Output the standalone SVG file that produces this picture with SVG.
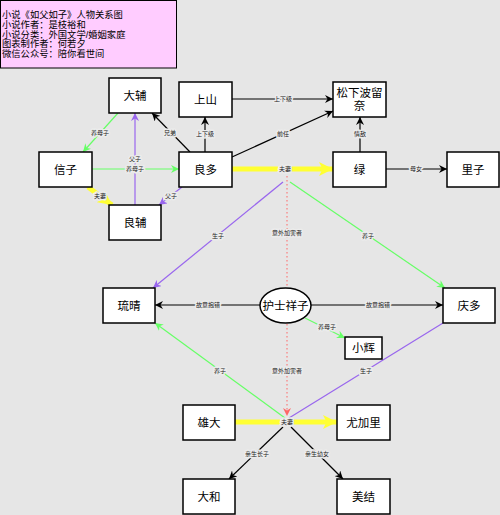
<svg xmlns="http://www.w3.org/2000/svg" width="500" height="515" viewBox="0 0 500 515">
<style>
text{font-family:"Liberation Sans","Noto Sans CJK SC",sans-serif;}
.box{fill:#fff;stroke:#000;stroke-width:1.5;}
.nt{font-size:11.5px;text-anchor:middle;dominant-baseline:central;fill:#000;}
.lb{font-size:6px;text-anchor:middle;dominant-baseline:central;fill:#222;stroke:#ececec;stroke-width:3;paint-order:stroke;stroke-linejoin:round;}
.k{stroke:#000;stroke-width:1.2;fill:none;marker-end:url(#ak);}
.g{stroke:#66ff66;stroke-width:1.2;fill:none;marker-end:url(#ag);}
.p{stroke:#9966ee;stroke-width:1.2;fill:none;marker-end:url(#ap);}
.y{stroke:#ffff33;stroke-width:5;fill:none;marker-end:url(#ay);}
.r{stroke:#ff6666;stroke-width:1;stroke-dasharray:1.5 2.5;fill:none;marker-end:url(#ar);}
.tt{font-size:9.3px;dominant-baseline:central;fill:#000;}
</style>
<defs>
<marker id="ak" markerUnits="userSpaceOnUse" markerWidth="9" markerHeight="8" refX="8" refY="4" orient="auto"><path d="M0,0 L8,4 L0,8 L2.5,4 z" fill="#000"/></marker>
<marker id="ag" markerUnits="userSpaceOnUse" markerWidth="9" markerHeight="8" refX="8" refY="4" orient="auto"><path d="M0,0 L8,4 L0,8 L2.5,4 z" fill="#66ff66"/></marker>
<marker id="ap" markerUnits="userSpaceOnUse" markerWidth="9" markerHeight="8" refX="8" refY="4" orient="auto"><path d="M0,0 L8,4 L0,8 L2.5,4 z" fill="#9966ee"/></marker>
<marker id="ar" markerUnits="userSpaceOnUse" markerWidth="9" markerHeight="8" refX="8" refY="4" orient="auto"><path d="M0,0 L8,4 L0,8 L2.5,4 z" fill="#ff6666"/></marker>
<marker id="ay" markerUnits="userSpaceOnUse" markerWidth="15" markerHeight="14" refX="14" refY="7" orient="auto"><path d="M0,0 L14,7 L0,14 L3.5,7 z" fill="#ffff33"/></marker>
</defs>
<rect x="0" y="0" width="500" height="515" fill="#e6e6e6"/>
<g id="title">
<rect x="0.5" y="0.5" width="176" height="67.5" fill="#ffccff" stroke="#000" stroke-width="1"/>
<text class="tt" x="2" y="15">小说《如父如子》人物关系图</text>
<text class="tt" x="2" y="25">小说作者：是枝裕和</text>
<text class="tt" x="2" y="34.5">小说分类：外国文学/婚姻家庭</text>
<text class="tt" x="2" y="44">图表制作者：何若夕</text>
<text class="tt" x="2" y="53.5">微信公众号：陪你看世间</text>
</g>
<g id="connectors">
<path class="g" d="M118,113 L83,152"/>
<path class="k" d="M190,152 L152,113"/>
<path class="k" d="M205,152 L205,117"/>
<path class="p" d="M135,205 L135,113"/>
<path class="g" d="M92,169 L179,169"/>
<path class="p" d="M182,187 L159,205"/>
<path class="y" d="M88,187 L112,205"/>
<path class="k" d="M232,99 L333,99"/>
<path class="k" d="M232,157 L333,111"/>
<path class="k" d="M360,152 L360,117"/>
<path class="y" d="M232,169 L333,169"/>
<path class="k" d="M386,169 L447,169"/>
<path class="r" d="M287,176 L287,416"/>
<path class="p" d="M283,182 L153,288"/>
<path class="g" d="M290,182 L445,288"/>
<path class="k" d="M260,305 L155,305"/>
<path class="k" d="M311,305 L443,305"/>
<path class="g" d="M305,318 L345,338"/>
<path class="g" d="M285,418 L155,323"/>
<path stroke="#9966ee" stroke-width="1.2" fill="none" d="M289,418 L443,323"/>
<path class="y" d="M235,422 L337,422"/>
<path class="k" d="M283,427 L229,479"/>
<path class="k" d="M291,427 L343,479"/>
<text class="lb" x="100" y="133">养母子</text>
<text class="lb" x="170" y="133">兄弟</text>
<text class="lb" x="205" y="134">上下级</text>
<text class="lb" x="135" y="159">父子</text>
<text class="lb" x="135" y="169">养母子</text>
<text class="lb" x="171" y="196">父子</text>
<text class="lb" x="100" y="196">夫妻</text>
<text class="lb" x="283" y="99">上下级</text>
<text class="lb" x="283" y="134">前任</text>
<text class="lb" x="360" y="134">情敌</text>
<text class="lb" x="285" y="169">夫妻</text>
<text class="lb" x="416" y="169">母女</text>
<text class="lb" x="218" y="236">生子</text>
<text class="lb" x="368" y="236">养子</text>
<text class="lb" x="287" y="233">意外加害者</text>
<text class="lb" x="287" y="371">意外加害者</text>
<text class="lb" x="208" y="305">故意抱错</text>
<text class="lb" x="378" y="305">故意抱错</text>
<text class="lb" x="327" y="327">养母子</text>
<text class="lb" x="220" y="371">养子</text>
<text class="lb" x="366" y="371">生子</text>
<text class="lb" x="287" y="422">夫妻</text>
<text class="lb" x="257" y="454">亲生长子</text>
<text class="lb" x="317" y="454">亲生幼女</text>
</g>
<g id="n-dafu"><rect class="box" x="109" y="78" width="52" height="35"/><text class="nt" x="135" y="95.5">大辅</text></g>
<g id="n-shangshan"><rect class="box" x="179" y="82" width="53" height="35"/><text class="nt" x="205.5" y="99.5">上山</text></g>
<g id="n-songxia"><rect class="box" x="333" y="82" width="53" height="35"/><text class="nt" x="359.5" y="93">松下波留</text><text class="nt" x="359.5" y="106">奈</text></g>
<g id="n-nobuko"><rect class="box" x="39" y="152" width="53" height="35"/><text class="nt" x="65.5" y="169.5">信子</text></g>
<g id="n-ryota"><rect class="box" x="179" y="152" width="53" height="35"/><text class="nt" x="205.5" y="169.5">良多</text></g>
<g id="n-midori"><rect class="box" x="333" y="152" width="53" height="35"/><text class="nt" x="359.5" y="169.5">绿</text></g>
<g id="n-satoko"><rect class="box" x="447" y="152" width="52" height="35"/><text class="nt" x="473" y="169.5">里子</text></g>
<g id="n-ryosuke"><rect class="box" x="109" y="205" width="52" height="35"/><text class="nt" x="135" y="222.5">良辅</text></g>
<g id="n-ryusei"><rect class="box" x="103" y="288" width="52" height="35"/><text class="nt" x="129" y="305.5">琉晴</text></g>
<g id="n-nurse"><ellipse cx="285.5" cy="305.5" rx="25.5" ry="17.5" fill="#fff" stroke="#000" stroke-width="1.5"/><text class="nt" x="285.5" y="305.5">护士祥子</text></g>
<g id="n-keita"><rect class="box" x="443" y="288" width="52" height="35"/><text class="nt" x="469" y="305.5">庆多</text></g>
<g id="n-xiaohui"><rect class="box" x="345" y="337" width="37" height="22"/><text class="nt" x="363.5" y="348">小辉</text></g>
<g id="n-yudai"><rect class="box" x="183" y="405" width="52" height="35"/><text class="nt" x="209" y="422.5">雄大</text></g>
<g id="n-yukari"><rect class="box" x="337" y="405" width="53" height="35"/><text class="nt" x="363.5" y="422.5">尤加里</text></g>
<g id="n-yamato"><rect class="box" x="183" y="479" width="52" height="35"/><text class="nt" x="209" y="496.5">大和</text></g>
<g id="n-miyu"><rect class="box" x="337" y="479" width="53" height="35"/><text class="nt" x="363.5" y="496.5">美结</text></g>
</svg>
